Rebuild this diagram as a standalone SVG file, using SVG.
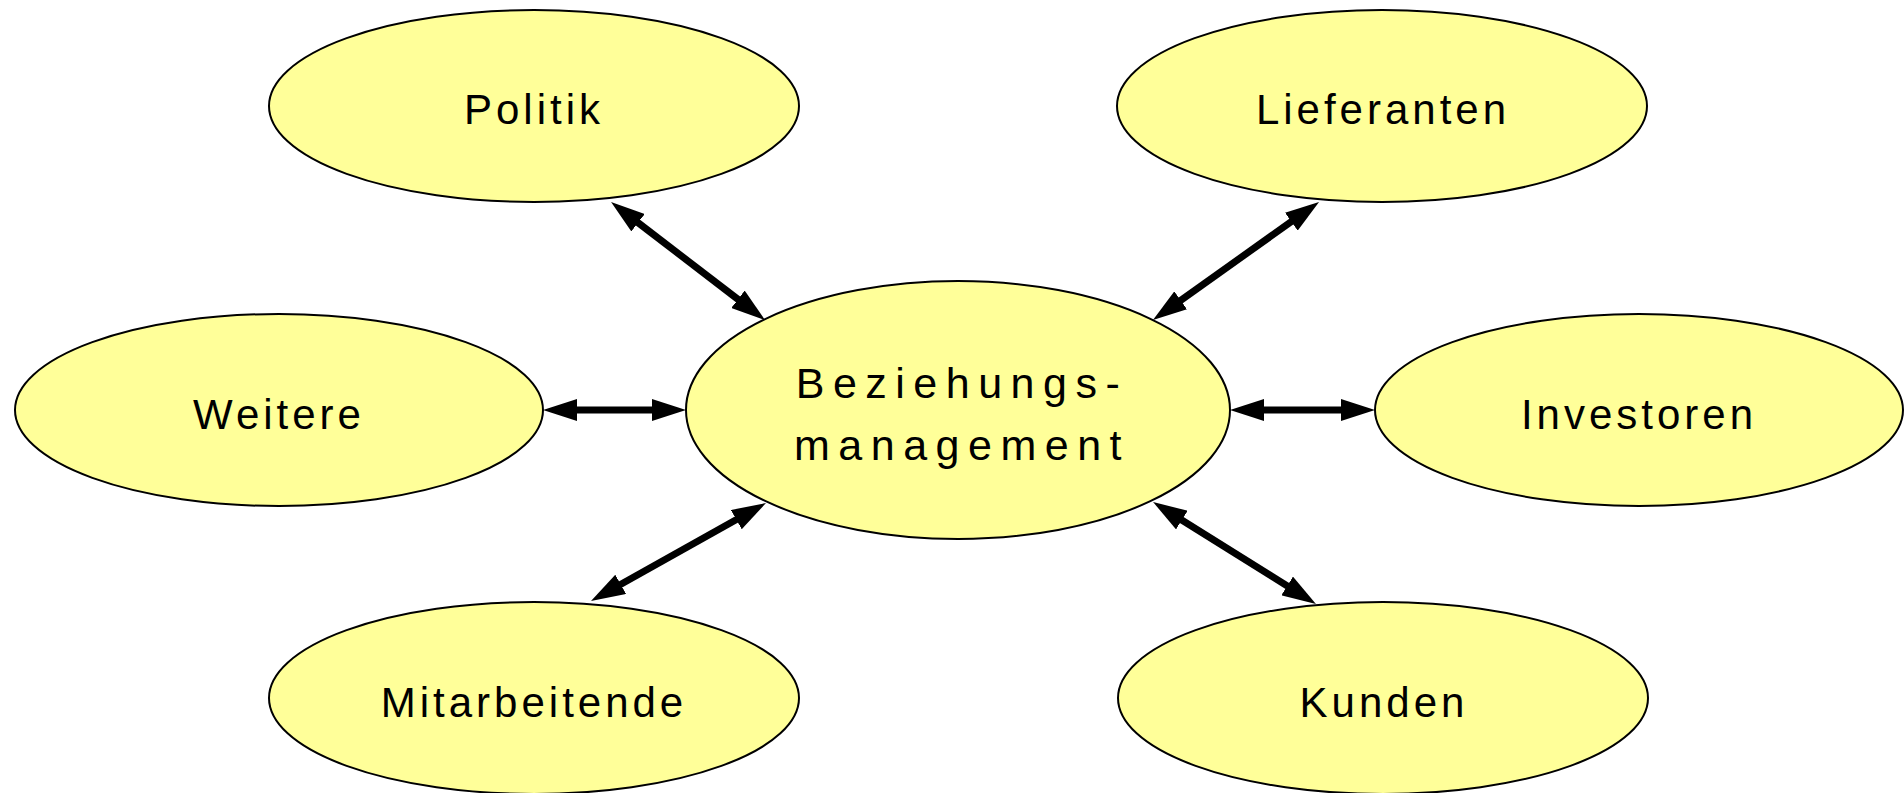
<svg xmlns="http://www.w3.org/2000/svg" width="1904" height="793" viewBox="0 0 1904 793">
  <style>
    .node { fill: #FFFF99; stroke: #000; stroke-width: 2; }
    .label { font-family: "Liberation Sans", Arial, sans-serif; font-size: 42px; letter-spacing: 4px; fill: #000; text-anchor: middle; }
    .hub { font-size: 43px; letter-spacing: 8.5px; }
    .link { stroke: #000; stroke-width: 7; fill: none; marker-start: url(#head); marker-end: url(#head); }
  </style>
  <defs>
    <marker id="head" markerUnits="userSpaceOnUse" markerWidth="34" markerHeight="22" refX="12" refY="11" orient="auto-start-reverse" viewBox="0 0 34 22">
      <path d="M0,0 L34,11 L0,22 z" fill="#000"/>
    </marker>
  </defs>
  <rect width="1904" height="793" fill="#fff"/>

  <g id="connectors">
    <line class="link" x1="628.5" y1="215.4" x2="747.5" y2="306.6"/>
    <line class="link" x1="1301.1" y1="214.7" x2="1170.9" y2="307.3"/>
    <line class="link" x1="565" y1="410" x2="664" y2="410"/>
    <line class="link" x1="1252" y1="410" x2="1353" y2="410"/>
    <line class="link" x1="610.2" y1="590.2" x2="746.8" y2="513.8"/>
    <line class="link" x1="1171.7" y1="513.7" x2="1297.3" y2="592.3"/>
  </g>

  <g id="beziehungsmanagement">
    <ellipse class="node" cx="958" cy="410" rx="272" ry="129"/>
    <text class="label hub" x="962" y="398">Beziehungs-</text>
    <text class="label hub" x="962" y="460">management</text>
  </g>
  <g id="politik">
    <ellipse class="node" cx="534" cy="106" rx="265" ry="96"/>
    <text class="label" x="534" y="124">Politik</text>
  </g>
  <g id="lieferanten">
    <ellipse class="node" cx="1382" cy="106" rx="265" ry="96"/>
    <text class="label" x="1383" y="124">Lieferanten</text>
  </g>
  <g id="weitere">
    <ellipse class="node" cx="279" cy="410" rx="264" ry="96"/>
    <text class="label" x="279" y="429">Weitere</text>
  </g>
  <g id="investoren">
    <ellipse class="node" cx="1639" cy="410" rx="264" ry="96"/>
    <text class="label" x="1639" y="429">Investoren</text>
  </g>
  <g id="mitarbeitende">
    <ellipse class="node" cx="534" cy="698" rx="265" ry="96"/>
    <text class="label" x="534" y="717">Mitarbeitende</text>
  </g>
  <g id="kunden">
    <ellipse class="node" cx="1383" cy="698" rx="265" ry="96"/>
    <text class="label" x="1384" y="717">Kunden</text>
  </g>
</svg>
